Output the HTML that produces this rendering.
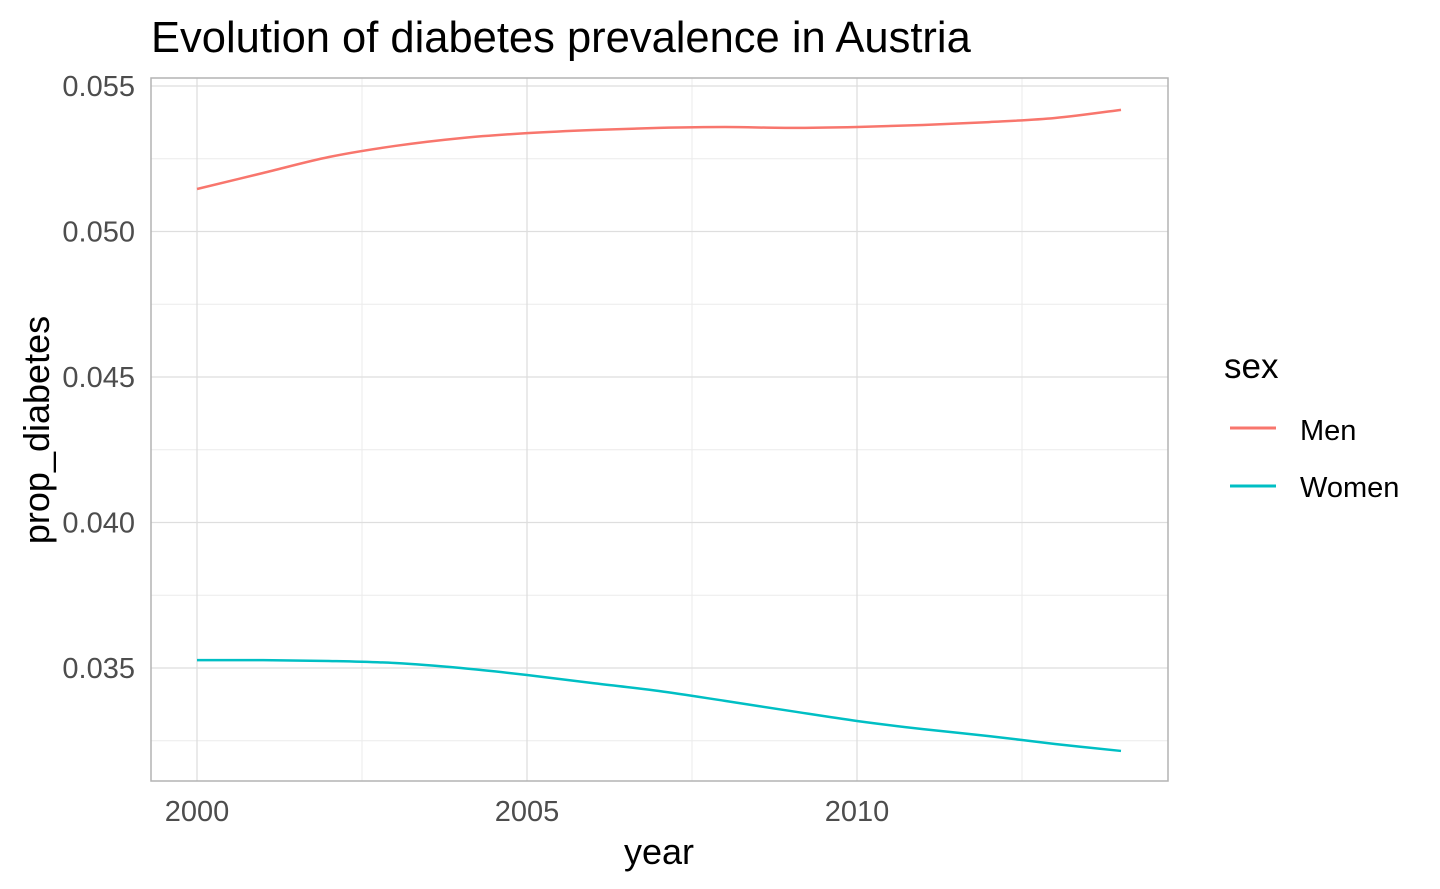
<!DOCTYPE html>
<html><head><meta charset="utf-8"><style>
html,body{margin:0;padding:0;background:#fff;}
svg{display:block;font-family:"Liberation Sans",Arial,sans-serif;}
</style></head><body>
<svg id="chart" width="1440" height="889">
<text x="151" y="52" font-size="43.5" fill="#000">Evolution of diabetes prevalence in Austria</text>
<g id="grid"></g>
<rect x="151" y="78" width="1017" height="703" fill="none" stroke="#b3b3b3" stroke-width="1.5"/>
<g id="xt"></g>
<g id="yt"></g>
<g id="lines"></g>
<text x="659" y="864" font-size="36" text-anchor="middle">year</text>
<text transform="translate(49,430) rotate(-90)" font-size="36" text-anchor="middle">prop_diabetes</text>
<g>
<text x="1224" y="378" font-size="35">sex</text>
<line x1="1230" y1="428" x2="1276" y2="428" stroke="#F8766D" stroke-width="3"/>
<text x="1300" y="440" font-size="29">Men</text>
<line x1="1230" y1="486" x2="1276" y2="486" stroke="#00BFC4" stroke-width="3"/>
<text x="1300" y="497" font-size="29">Women</text>
</g>
</svg>
<script>
const years=[2000,2001,2002,2003,2004,2005,2006,2007,2008,2009,2010,2011,2012,2013,2014];
const men=[0.05146,0.05201,0.05256,0.05294,0.05321,0.05338,0.05349,0.05356,0.05359,0.05356,0.05359,0.05366,0.05376,0.0539,0.05418];
const women=[0.03527,0.03527,0.03524,0.03517,0.035,0.03476,0.03448,0.03421,0.03387,0.03352,0.03318,0.0329,0.03266,0.03239,0.03215];
const xTicks=[2000,2005,2010];
const yTicks=[0.035,0.040,0.045,0.050,0.055];
const yTickLabels=["0.035","0.040","0.045","0.050","0.055"];
const NS="http://www.w3.org/2000/svg";
function X(v){return 197+(v-2000)*66;}
function Y(v){return 86+(0.055-v)*29100;}
function mk(t,a,p){const e=document.createElementNS(NS,t);for(const k in a)e.setAttribute(k,a[k]);p.appendChild(e);return e;}
const grid=document.getElementById('grid');
[1997.5,2002.5,2007.5,2012.5].forEach(v=>{if(X(v)>151){const l=mk('line',{x1:X(v),x2:X(v),y1:78,y2:781,stroke:'#ebebeb','stroke-width':1},grid);

}});
[0.0325,0.0375,0.0425,0.0475,0.0525].forEach(v=>{const l=mk('line',{x1:151,x2:1168,y1:Y(v),y2:Y(v),stroke:'#ebebeb','stroke-width':1},grid);

});
const xt=document.getElementById('xt');
xTicks.forEach(v=>{const l=mk('line',{x1:X(v),x2:X(v),y1:78,y2:781,stroke:'#dedede','stroke-width':1.3},grid);


const t=mk('text',{x:X(v),y:821,'font-size':29,fill:'#4d4d4d','text-anchor':'middle'},xt);t.textContent=v;

});
const yt=document.getElementById('yt');
yTicks.forEach((v,i)=>{const l=mk('line',{x1:151,x2:1168,y1:Y(v),y2:Y(v),stroke:'#dedede','stroke-width':1.3},grid);


const t=mk('text',{x:135,y:Y(v)+10,'font-size':29,fill:'#4d4d4d','text-anchor':'end'},yt);t.textContent=yTickLabels[i];

});
function path(vals){const p=years.map((y,i)=>[X(y),Y(vals[i])]);let d='M'+p[0][0]+','+p[0][1];
for(let i=0;i<p.length-1;i++){const p0=p[Math.max(0,i-1)],p1=p[i],p2=p[i+1],p3=p[Math.min(p.length-1,i+2)];
d+=' C'+(p1[0]+(p2[0]-p0[0])/6)+','+(p1[1]+(p2[1]-p0[1])/6)+' '+(p2[0]-(p3[0]-p1[0])/6)+','+(p2[1]-(p3[1]-p1[1])/6)+' '+p2[0]+','+p2[1];}return d;}
const lines=document.getElementById('lines');
const lm=mk('path',{d:path(men),fill:'none',stroke:'#F8766D','stroke-width':2.5},lines);


const lw=mk('path',{d:path(women),fill:'none',stroke:'#00BFC4','stroke-width':2.5},lines);


</script>
</body></html>
